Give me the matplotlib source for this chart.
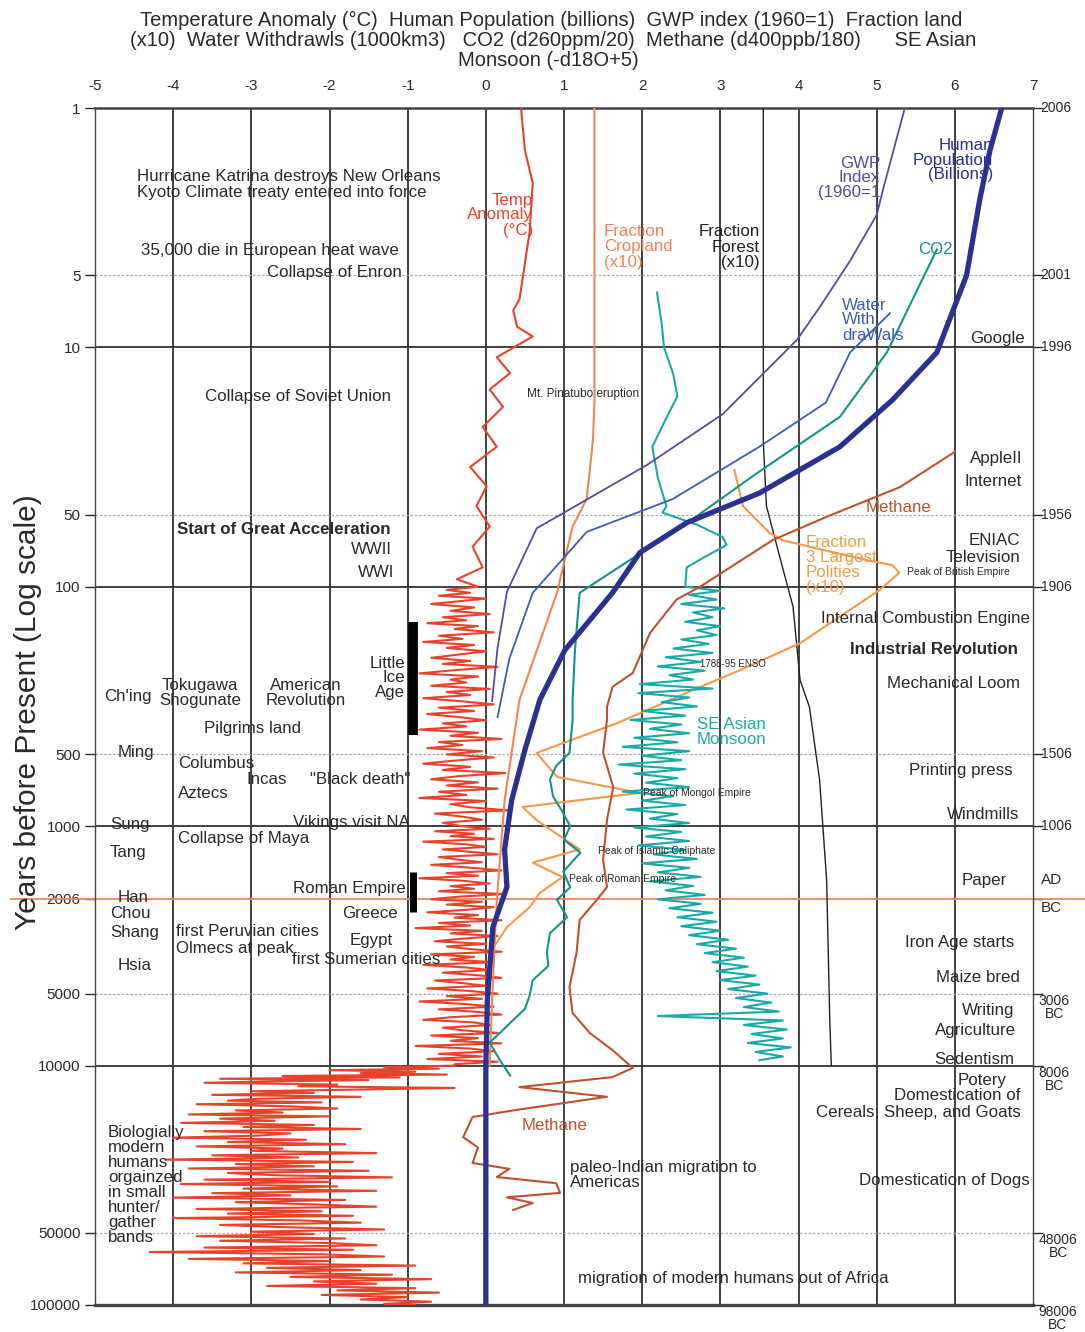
import matplotlib
matplotlib.use('Agg')
import matplotlib.pyplot as plt
import matplotlib.transforms as mtransforms
from matplotlib.ticker import NullLocator

# ---------------- data (years before present, value) ----------------
x_ticks = [-5, -4, -3, -2, -1, 0, 1, 2, 3, 4, 5, 6, 7]
left_ticks = [1, 5, 10, 50, 100, 500, 1000, 2006, 5000, 10000, 50000, 100000]
left_tick_labels = ['1', '5', '10', '50', '100', '500', '1000', '2006', '5000', '10000', '50000', '100000']
solid_h = [10, 100, 1000, 10000]
dotted_h = [5, 50, 500, 5000, 50000]
right_years = [1, 5, 10, 50, 100, 500, 1000]
right_labels = ['2006', '2001', '1996', '1956', '1906', '1506', '1006']
right_years_bc = [5000, 10000, 50000, 100000]
right_labels_bc = ['3006\nBC', '8006\nBC', '48006\nBC', '98006\nBC']

temp_recent_years = [1, 1.5, 2.06, 3.3, 6.3, 7.0, 8.2, 9.0, 11, 12.8, 15, 17.7, 21.5, 26, 31.6, 38, 46, 56, 68, 83, 93]
temp_recent_vals = [0.45, 0.5, 0.6, 0.56, 0.43, 0.35, 0.4, 0.6, 0.14, 0.31, 0.05, 0.22, -0.04, 0.14, -0.2, 0.01, -0.12,
                    0.05, -0.17, -0.04, -0.37]
temp_mil_years = [100, 103, 106, 109, 112, 115, 118, 122, 126, 130,
                  134, 138, 142, 146, 150, 155, 160, 165, 170, 175,
                  180, 186, 192, 198, 204, 210, 216, 223, 230, 237,
                  244, 251, 259, 267, 275, 283, 292, 301, 310, 320,
                  330, 340, 350, 361, 372, 383, 395, 407, 419, 432,
                  445, 458, 472, 486, 501, 516, 532, 548, 565, 582,
                  600, 618, 637, 656, 676, 697, 718, 740, 762, 785,
                  809, 834, 859, 885, 912, 940, 968]
temp_mil_vals = [-0.1, -0.5, -0.2, -0.6, 0.0, -0.35, -0.7, -0.15, -0.45, 0.05,
                 -0.55, -0.25, -0.75, -0.1, -0.4, 0.1, -0.6, -0.3, -0.8, -0.15,
                 -0.5, 0.0, -0.35, -0.7, -0.2, -0.55, 0.15, -0.4, -0.85, -0.1,
                 -0.45, -0.25, -0.7, 0.05, -0.5, -0.2, -0.8, -0.3, 0.1, -0.6,
                 -0.15, -0.75, -0.35, 0.0, -0.55, -0.25, -0.85, -0.1, -0.45, 0.2,
                 -0.6, -0.3, -0.75, -0.05, -0.5, 0.1, -0.4, -0.8, -0.2, -0.55,
                 0.25, -0.35, -0.7, -0.1, -0.5, 0.15, -0.6, -0.25, -0.85, 0.0,
                 -0.45, -0.2, 0.3, -0.65, -0.3, -0.05, -0.55]
temp_holo_years = [1000, 1025, 1050, 1075, 1100, 1130, 1160, 1190, 1220, 1250,
                   1280, 1310, 1345, 1380, 1415, 1450, 1490, 1530, 1570, 1610,
                   1650, 1690, 1735, 1780, 1825, 1870, 1920, 1970, 2020, 2070,
                   2125, 2180, 2235, 2290, 2350, 2410, 2470, 2535, 2600, 2665,
                   2735, 2805, 2875, 2950, 3025, 3100, 3180, 3260, 3345, 3430,
                   3515, 3605, 3700, 3795, 3890, 3990, 4090, 4195, 4300, 4410,
                   4525, 4640, 4760, 4880, 5005, 5130, 5260, 5395, 5535, 5675,
                   5820, 5970, 6120, 6280, 6440, 6600, 6770, 6945, 7120, 7300,
                   7490, 7680, 7875, 8075, 8280, 8490, 8710, 8930, 9160, 9390,
                   9630, 9870]
temp_holo_vals = [-0.3, 0.05, -0.65, -0.15, -0.45, 0.1, -0.8, -0.25, 0.0, -0.55,
                  -0.2, 0.15, -0.6, -0.35, -0.05, -0.7, -0.2, 0.2, -0.5, -0.1,
                  -0.85, -0.3, 0.05, -0.45, -0.15, -0.6, 0.25, -0.35, -0.7, -0.05,
                  -0.5, 0.1, -0.25, -0.75, -0.1, -0.4, 0.2, -0.6, -0.2, -0.9,
                  -0.05, -0.45, 0.15, -0.3, -0.65, 0.0, -0.5, -0.2, 0.2, -0.7,
                  -0.15, -0.45, 0.1, -0.8, -0.25, 0.05, -0.55, -0.1, 0.2, -0.65,
                  -0.3, 0.0, -0.75, -0.2, 0.15, -0.5, -0.05, -0.85, -0.25, 0.1,
                  -0.6, -0.1, 0.2, -0.45, -0.8, -0.15, 0.05, -0.55, -0.3, 0.15,
                  -0.7, -0.1, -0.45, 0.2, -0.9, -0.2, 0.1, -0.6, -0.05, -0.75,
                  0.15, -0.4]
temp_glac_years = [10000, 10150, 10300, 10450, 10600, 10750, 10900, 11050, 11200, 11350,
                   11500, 11650, 11800, 12000, 12200, 12400, 12600, 12800, 13000, 13250,
                   13500, 13750, 14000, 14250, 14500, 14800, 15100, 15400, 15700, 16000,
                   16300, 16650, 17000, 17350, 17700, 18050, 18400, 18800, 19200, 19600,
                   20000, 20400, 20850, 21300, 21750, 22200, 22700, 23200, 23700, 24200,
                   24700, 25250, 25800, 26350, 26900, 27500, 28100, 28700, 29300, 29950,
                   30600, 31250, 31950, 32650, 33350, 34100, 34850, 35600, 36400, 37200,
                   38000, 38850, 39700, 40600, 41500, 42400, 43350, 44300, 45300, 46300,
                   47300, 48350, 49400, 50500, 51600, 52750, 53900, 55100, 56300, 57550,
                   58800, 60100, 61400, 62750, 64150, 65550, 67000, 68450, 69950, 71500,
                   73100, 74700, 76350, 78000, 79700, 81450, 83250, 85050, 86900, 88800,
                   90750, 92750, 94800, 96850, 98900, 100000]
temp_glac_vals = [-0.4, -1.3, -0.6, -2.0, -0.9, -1.6, -0.5, -2.6, -1.1, -3.4,
                  -1.5, -2.8, -3.6, -1.9, -2.4, -0.4, -1.7, -3.0, -2.2, -3.5,
                  -1.6, -2.9, -3.3, -2.1, -3.7, -2.5, -1.9, -3.2, -2.6, -3.8,
                  -2.0, -3.4, -2.7, -3.9, -2.2, -3.1, -1.6, -3.6, -2.5, -2.9,
                  -4.0, -2.3, -3.3, -1.8, -3.7, -2.6, -3.0, -1.4, -3.5, -2.4,
                  -4.1, -1.7, -3.2, -2.2, -3.8, -1.5, -3.3, -2.7, -1.2, -3.6,
                  -2.0, -3.9, -1.9, -3.1, -1.4, -3.5, -2.5, -4.0, -1.8, -3.2,
                  -2.2, -1.4, -3.7, -2.1, -3.3, -1.7, -4.0, -2.4, -1.6, -3.4,
                  -2.6, -1.3, -3.0, -2.2, -3.7, -1.8, -3.4, -2.0, -1.4, -3.6,
                  -1.7, -4.3, -2.1, -1.3, -3.8, -2.0, -3.1, -0.9, -2.8, -1.6,
                  -3.2, -1.2, -2.5, -0.7, -2.2, -1.4, -2.8, -0.9, -1.9, -0.6,
                  -2.1, -1.0, -1.6, -0.7, -1.3, -0.9]

pop_years = [1, 1.5, 2.4, 5, 10.5, 16.6, 26, 40.6, 54, 72, 106, 184, 297, 480, 780, 1250, 1795, 2640, 5300, 10000, 100000]
pop_vals = [6.6, 6.45, 6.32, 6.15, 5.77, 5.2, 4.53, 3.5, 2.57, 1.97, 1.62, 1.01, 0.69, 0.5, 0.33, 0.24, 0.27, 0.09, 0.02,
            0.0, 0.0]

gwp_years = [1, 2.2, 2.8, 4.4, 6.8, 9.3, 19, 31, 57, 105, 180, 300]
gwp_vals = [5.36, 5.08, 5.0, 4.65, 4.27, 3.98, 3.03, 2.06, 0.65, 0.27, 0.15, 0.08]

water_years = [7.2, 10.5, 17, 26, 43, 59, 106, 200, 350]
water_vals = [5.17, 4.66, 4.35, 3.5, 2.39, 1.29, 0.6, 0.3, 0.15]

co2_years = [3.9, 10.5, 19.5, 33.5, 52, 106, 184, 297, 360, 494, 560, 637, 750, 870, 1000, 1140, 1290, 1550, 1800, 2030,
             2400, 2800, 3360, 3830, 4400, 5100, 5800, 6450, 7200, 8000, 9500, 11000]
co2_vals = [5.77, 5.13, 4.53, 3.47, 2.65, 1.2, 1.14, 1.11, 1.11, 1.07, 0.9, 0.82, 0.86, 0.98, 1.08, 1.0, 1.21, 0.99, 1.08,
            0.91, 1.04, 0.82, 0.78, 0.8, 0.6, 0.56, 0.5, 0.35, 0.2, 0.05, 0.18, 0.31]

monsoon_years = [5.9, 8, 10, 13, 16, 20, 26, 35, 46, 49, 55, 62, 67, 75, 83,
                 100, 104, 108, 113, 118, 123, 128, 134, 140, 146, 152, 159, 166, 173, 181, 189, 197, 206, 215, 224,
                 234, 244, 255, 266, 278, 290, 303, 316, 330, 345, 360, 376, 392, 409, 427, 446, 466, 486, 508, 530,
                 553, 578, 603, 630, 658, 687, 717, 749, 782, 816, 852, 890, 929, 970, 1013, 1057, 1104, 1153, 1203,
                 1256, 1312, 1370, 1430, 1493, 1559, 1628, 1700, 1775, 1853, 1935, 2020, 2109, 2202, 2299, 2401, 2507,
                 2617, 2733, 2853, 2979, 3111, 3248, 3391, 3541, 3697, 3860, 4030, 4208, 4394, 4588, 4790, 5002, 5222,
                 5453, 5693, 5945, 6207, 6481, 6767, 7066, 7378, 7703, 8043, 8398, 8769, 9156, 9500]
monsoon_vals = [2.19, 2.25, 2.28, 2.4, 2.45, 2.3, 2.13, 2.2, 2.31, 2.26, 2.7, 3.03, 3.08, 2.8, 2.57,
                2.55, 3.0, 2.6, 2.95, 2.5, 3.05, 2.65, 2.9, 2.55, 3.0, 2.7, 2.95, 2.5, 2.85, 2.4, 2.9, 2.3, 2.75, 2.2,
                2.8, 2.35, 2.65, 1.97, 2.9, 1.95, 2.6, 2.25, 2.7, 2.0, 2.55, 1.85, 2.5, 2.1, 2.6, 1.9, 2.45, 1.75, 2.6,
                2.0, 2.5, 1.7, 2.55, 1.9, 2.45, 2.05, 2.6, 1.75, 2.4, 2.0, 2.55, 1.8, 2.45, 2.1, 2.6, 1.9, 2.5, 2.05,
                2.6, 1.95, 2.55, 2.15, 2.7, 2.0, 2.6, 2.2, 2.75, 2.1, 2.65, 2.3, 2.8, 2.2, 2.75, 2.35, 2.9, 2.45, 2.95,
                2.5, 3.0, 2.6, 3.1, 2.7, 3.2, 2.8, 3.3, 2.9, 3.35, 2.95, 3.45, 3.0, 3.5, 3.1, 3.6, 3.2, 3.65, 3.3,
                3.75, 2.2, 3.8, 3.3, 3.85, 3.4, 3.8, 3.35, 3.9, 3.45, 3.8, 3.5]

methane_years = [27.3, 38.3, 51, 63.8, 100, 113, 156, 229, 262, 318, 360, 494, 686, 942, 1383, 1795, 2032, 2465, 3388,
                 4700, 6030, 7310, 8610, 10230, 11170, 12300, 13500, 15300, 16400, 19900, 22000, 25500, 27000, 29200,
                 31000, 34000, 35500, 37500, 40100]
methane_vals = [6.0, 5.3, 4.36, 3.67, 2.74, 2.44, 2.1, 1.88, 1.62, 1.55, 1.55, 1.5, 1.63, 1.55, 1.5, 1.55, 1.42, 1.2,
                1.16, 1.07, 1.11, 1.33, 1.62, 1.88, 1.62, 0.43, 1.55, 0.4, -0.17, -0.29, -0.1, -0.17, 0.3, 0.14, 0.9,
                0.95, 0.27, 0.6, 0.35]

crop_years = [1, 10, 17, 24.4, 43, 56, 106, 297, 780, 2040, 5300, 10000]
crop_vals = [1.39, 1.39, 1.39, 1.37, 1.29, 1.11, 0.91, 0.43, 0.24, 0.14, 0.08, 0.05]

forest_years = [1, 25, 46, 75, 121, 245, 318, 641, 1680, 6450, 10000]
forest_vals = [3.55, 3.55, 3.59, 3.76, 3.93, 4.02, 4.14, 4.27, 4.36, 4.40, 4.42]

polity_years = [32.5, 46, 59.6, 64, 77.3, 81.2, 87.4, 103, 172, 223, 270, 371, 494, 622, 726, 831, 943, 1030, 1250, 1420,
                1630, 1900, 2180, 2640, 3390]
polity_vals = [3.18, 3.29, 3.63, 3.8, 4.87, 5.2, 5.29, 5.04, 4.02, 3.25, 2.65, 1.68, 0.65, 0.91, 1.97, 0.47, 0.65, 0.82,
               1.2, 0.6, 0.98, 0.69, 0.56, 0.27, 0.05]

little_ice_age = [140, 416]
roman_period = [1560, 2290]
ad_bc_year = 2006

# ---------------- styling ----------------
C_TEMP = '#e8432a'
C_POP = '#2b3190'
C_GWP = '#5a4a9f'
C_WATER = '#3b5cb8'
C_CO2 = '#13948a'
C_MONS = '#19aaa8'
C_METH = '#c2502e'
C_CROP = '#f08555'
C_POL = '#f39a45'
C_TXT = '#2a2a2a'

plt.rcParams['font.family'] = ['Liberation Sans', 'DejaVu Sans']

W, H = 1085, 1332
fig = plt.figure(figsize=(W / 100, H / 100), dpi=100)
ax = fig.add_axes([95 / W, 1 - 1305 / H, (1033 - 95) / W, (1305 - 108) / H])
ax.set_xlim(-5, 7)
ax.set_yscale('log')
ax.set_ylim(100000, 1)

ax.xaxis.tick_top()
ax.set_xticks(x_ticks)
ax.set_xticklabels([str(v) for v in x_ticks])
ax.tick_params(axis='x', length=0, pad=11, labelsize=11, colors=C_TXT)
ax.set_yticks(left_ticks)
ax.set_yticklabels(left_tick_labels)
ax.yaxis.set_minor_locator(NullLocator())
ax.tick_params(axis='y', which='major', left=True, right=True, length=7, labelsize=11,
               colors=C_TXT, direction='out', width=1)

for s in ['left', 'right']:
    ax.spines[s].set_linewidth(1.0)
    ax.spines[s].set_color('#444')
ax.spines['top'].set_linewidth(1.8)
ax.spines['top'].set_color('#444')
ax.spines['bottom'].set_linewidth(2.4)
ax.spines['bottom'].set_color('#444')

for xv in x_ticks[1:-1]:
    ax.axvline(xv, color='#333', lw=1.3, zorder=1)
for yv in solid_h:
    ax.axhline(yv, color='#333', lw=1.3, zorder=1)
for yv in dotted_h:
    ax.axhline(yv, color='#aaa', lw=0.9, ls=(0, (2, 1.5)), zorder=1)

# AD/BC line extending beyond axes
ax.plot([-0.09, 1.06], [ad_bc_year, ad_bc_year], transform=ax.get_yaxis_transform(),
        color=C_CROP, lw=1.3, clip_on=False, zorder=2)

# data series
temp_years = temp_recent_years + temp_mil_years + temp_holo_years + temp_glac_years
temp_vals = temp_recent_vals + temp_mil_vals + temp_holo_vals + temp_glac_vals
ax.plot(temp_vals, temp_years, color=C_TEMP, lw=1.5, zorder=3)
ax.plot(forest_vals, forest_years, color='#222', lw=1.0, zorder=3)
ax.plot(crop_vals, crop_years, color=C_CROP, lw=1.5, zorder=3)
ax.plot(polity_vals, polity_years, color=C_POL, lw=1.5, zorder=3)
ax.plot(monsoon_vals, monsoon_years, color=C_MONS, lw=1.5, zorder=3)
ax.plot(methane_vals, methane_years, color=C_METH, lw=1.5, zorder=3)
ax.plot(co2_vals, co2_years, color=C_CO2, lw=1.5, zorder=4)
ax.plot(water_vals, water_years, color=C_WATER, lw=1.3, zorder=4)
ax.plot(gwp_vals, gwp_years, color=C_GWP, lw=1.3, zorder=4)
ax.plot(pop_vals, pop_years, color=C_POP, lw=3.8, zorder=5, solid_capstyle='butt')

ax.plot([-0.93, -0.93], little_ice_age, color='black', lw=7, solid_capstyle='butt', zorder=5)
ax.plot([-0.93, -0.93], roman_period, color='black', lw=5, solid_capstyle='butt', zorder=5)

# right-side year labels
btr = mtransforms.blended_transform_factory(ax.transAxes, ax.transData)
for yv, lab in zip(right_years, right_labels):
    ax.text(1.008, yv, lab, transform=btr, ha='left', va='center', fontsize=10, color=C_TXT)
ax.text(1.008, 1680, 'AD', transform=btr, ha='left', va='center', fontsize=11, color=C_TXT)
ax.text(1.008, 2200, 'BC', transform=btr, ha='left', va='center', fontsize=11, color=C_TXT)
for yv, lab in zip(right_years_bc, right_labels_bc):
    ax.text(1.006, yv, lab, transform=btr, ha='left', va='top', fontsize=10, color=C_TXT,
            linespacing=0.95, multialignment='center')


def ftext(px, py, s, ha='left', va='center', size=12.2, color=C_TXT, **kw):
    fig.text(px / W, 1 - py / H, s, ha=ha, va=va, fontsize=size, color=color, **kw)


# title
ftext(140, 20, 'Temperature Anomaly (\u00b0C)  Human Population (billions)  GWP index (1960=1)  Fraction land', size=14.5)
ftext(130, 40, '(x10)  Water Withdrawls (1000km3)   CO2 (d260ppm/20)  Methane (d400ppb/180)      SE Asian', size=14.5)
ftext(548, 60, 'Monsoon (-d18O+5)', ha='center', size=14.5)

ftext(28, 712, 'Years before Present (Log scale)', ha='center', size=21.5, rotation=90)

# annotations
notes = [
    ('Hurricane Katrina destroys New Orleans', 137, 177, 'left', 'normal'),
    ('Kyoto Climate treaty entered into force', 137, 193, 'left', 'normal'),
    ('35,000 die in European heat wave', 141, 250, 'left', 'normal'),
    ('Collapse of Enron', 402, 272, 'right', 'normal'),
    ('Collapse of Soviet Union', 205, 396, 'left', 'normal'),
    ('Start of Great Acceleration', 177, 529, 'left', 'bold'),
    ('WWII', 392, 549, 'right', 'normal'),
    ('WWI', 394, 573, 'right', 'normal'),
    ("Ch'ing", 104, 696, 'left', 'normal'),
    ('Pilgrims land', 204, 728, 'left', 'normal'),
    ('Ming', 118, 753, 'left', 'normal'),
    ('Columbus', 178, 763, 'left', 'normal'),
    ('Incas', 246, 780, 'left', 'normal'),
    ('"Black death"', 310, 780, 'left', 'normal'),
    ('Aztecs', 178, 793, 'left', 'normal'),
    ('Vikings visit NA', 293, 823, 'left', 'normal'),
    ('Sung', 110, 825, 'left', 'normal'),
    ('Collapse of Maya', 178, 838, 'left', 'normal'),
    ('Tang', 110, 853, 'left', 'normal'),
    ('Roman Empire', 293, 888, 'left', 'normal'),
    ('Han', 118, 898, 'left', 'normal'),
    ('Chou', 110, 913, 'left', 'normal'),
    ('Greece', 342, 913, 'left', 'normal'),
    ('Shang', 110, 932, 'left', 'normal'),
    ('first Peruvian cities', 176, 932, 'left', 'normal'),
    ('Olmecs at peak', 176, 948, 'left', 'normal'),
    ('Egypt', 350, 940, 'left', 'normal'),
    ('first Sumerian cities', 292, 960, 'left', 'normal'),
    ('Hsia', 118, 965, 'left', 'normal'),
    ('migration of modern humans out of Africa', 578, 1278, 'left', 'normal'),
    ('Google', 1025, 338, 'right', 'normal'),
    ('AppleII', 1022, 459, 'right', 'normal'),
    ('Internet', 1022, 481, 'right', 'normal'),
    ('ENIAC', 1020, 540, 'right', 'normal'),
    ('Television', 1020, 557, 'right', 'normal'),
    ('Internal Combustion Engine', 1030, 619, 'right', 'normal'),
    ('Industrial Revolution', 1018, 649, 'right', 'bold'),
    ('Mechanical Loom', 1020, 684, 'right', 'normal'),
    ('Printing press', 1013, 771, 'right', 'normal'),
    ('Windmills', 1019, 814, 'right', 'normal'),
    ('Paper', 1007, 880, 'right', 'normal'),
    ('Iron Age starts', 1014, 943, 'right', 'normal'),
    ('Maize bred', 1020, 978, 'right', 'normal'),
    ('Writing', 1014, 1010, 'right', 'normal'),
    ('Agriculture', 1016, 1031, 'right', 'normal'),
    ('Sedentism', 1014, 1060, 'right', 'normal'),
    ('Potery', 1007, 1080, 'right', 'normal'),
    ('Domestication of', 1021, 1096, 'right', 'normal'),
    ('Cereals, Sheep, and Goats', 1021, 1113, 'right', 'normal'),
    ('Domestication of Dogs', 1030, 1181, 'right', 'normal'),
]
for s, px, py, ha, wt in notes:
    ftext(px, py, s, ha=ha, weight=wt, zorder=6)

multi_notes = [
    ('Little\nIce\nAge', 405, 678, 'right'),
    ('Tokugawa\nShogunate', 200, 693, 'center'),
    ('American\nRevolution', 306, 693, 'center'),
    ('Biologially\nmodern\nhumans\norgainzed\nin small\nhunter/\ngather\nbands', 108, 1185, 'left'),
    ('paleo-Indian migration to\nAmericas', 570, 1175, 'left'),
]
for s, px, py, ha in multi_notes:
    ftext(px, py, s, ha=ha, linespacing=1.0, multialignment=ha)

series_notes = [
    ('Temp\nAnomaly\n(\u00b0C)', 533, 215, 'right', C_TEMP),
    ('Fraction\nCropland\n(x10)', 604, 247, 'left', C_CROP),
    ('Fraction\nForest\n(x10)', 760, 247, 'right', '#222'),
    ('GWP\nIndex\n(1960=1', 880, 178, 'right', C_GWP),
    ('Human\nPopulation\n(Billions)', 993, 160, 'right', C_POP),
    ('CO2', 918, 250, 'left', C_CO2),
    ('Water\nWith\ndraWals', 842, 320, 'left', C_WATER),
    ('Methane', 866, 507, 'left', C_METH),
    ('Fraction\n3 Largest\nPolities\n(x10)', 806, 565, 'left', C_POL),
    ('SE Asian\nMonsoon', 697, 732, 'left', C_MONS),
    ('Methane', 522, 1125, 'left', C_METH),
]
for s, px, py, ha, col in series_notes:
    ftext(px, py, s, ha=ha, color=col, linespacing=1.0, multialignment=ha, zorder=6)

small_notes = [
    ('Mt. Pinatubo eruption', 527, 394, 8.5),
    ('1788-95 ENSO', 700, 664, 7),
    ('Peak of British Empire', 907, 572, 7.5),
    ('Peak of Mongol Empire', 643, 793, 7.5),
    ('Peak of Islamic Caliphate', 598, 851, 7.5),
    ('Peak of Roman Empire', 569, 879, 7.5),
]
for s, px, py, sz in small_notes:
    ftext(px, py, s, size=sz, zorder=6)

fig.savefig('out.png', dpi=100)
